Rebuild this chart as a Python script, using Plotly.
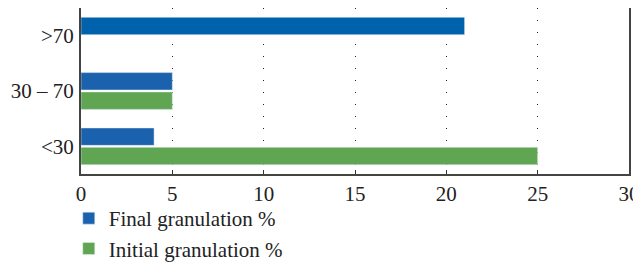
import plotly.graph_objects as go

categories = ["<30", "30 – 70", ">70"]
final_vals = [4, 5, 21]
initial_vals = [25, 5, None]
x_ticks = [0, 5, 10, 15, 20, 25, 30]

fig = go.Figure()
fig.add_trace(go.Bar(y=categories, x=initial_vals, orientation="h",
                     name="Initial granulation %", marker_color="#5fa552"))
fig.add_trace(go.Bar(y=categories, x=final_vals, orientation="h",
                     name="Final granulation %",
                     marker_color=["#1a62ae", "#1a62ae", "#0062ad"]))

font = dict(family="Liberation Serif, Times New Roman, serif", size=21, color="#222222")
# page body has an 8px margin, so the figure is sized/offset to compensate
fig.update_layout(
    width=633, height=254,
    margin=dict(l=73, r=12, t=0, b=88, autoexpand=False),
    paper_bgcolor="white", plot_bgcolor="white",
    barmode="group", bargap=0.3, bargroupgap=0.1,
    font=font,
    showlegend=True,
    legend=dict(orientation="v", xref="container", yref="container",
                x=0.096, xanchor="left", y=0.252, yanchor="top",
                traceorder="reversed", font=dict(size=21), tracegroupgap=0,
                itemwidth=30, bgcolor="rgba(0,0,0,0)"),
    xaxis=dict(range=[0, 30], tickvals=x_ticks, ticks="inside", ticklen=4,
               tickcolor="#333", showgrid=True, gridcolor="#222", gridwidth=1,
               griddash="1px,11px", showline=True, linecolor="#444", linewidth=2,
               mirror=True, zeroline=False, fixedrange=True, automargin=False,
               ticklabeloverflow="allow"),
    yaxis=dict(categoryorder="array", categoryarray=categories,
               showline=True, linecolor="#444", linewidth=2, mirror=True,
               ticks="", showgrid=False, ticklabelstandoff=1, fixedrange=True,
               automargin=False, tickfont=dict(size=21)),
)
fig.write_html("out.html")
